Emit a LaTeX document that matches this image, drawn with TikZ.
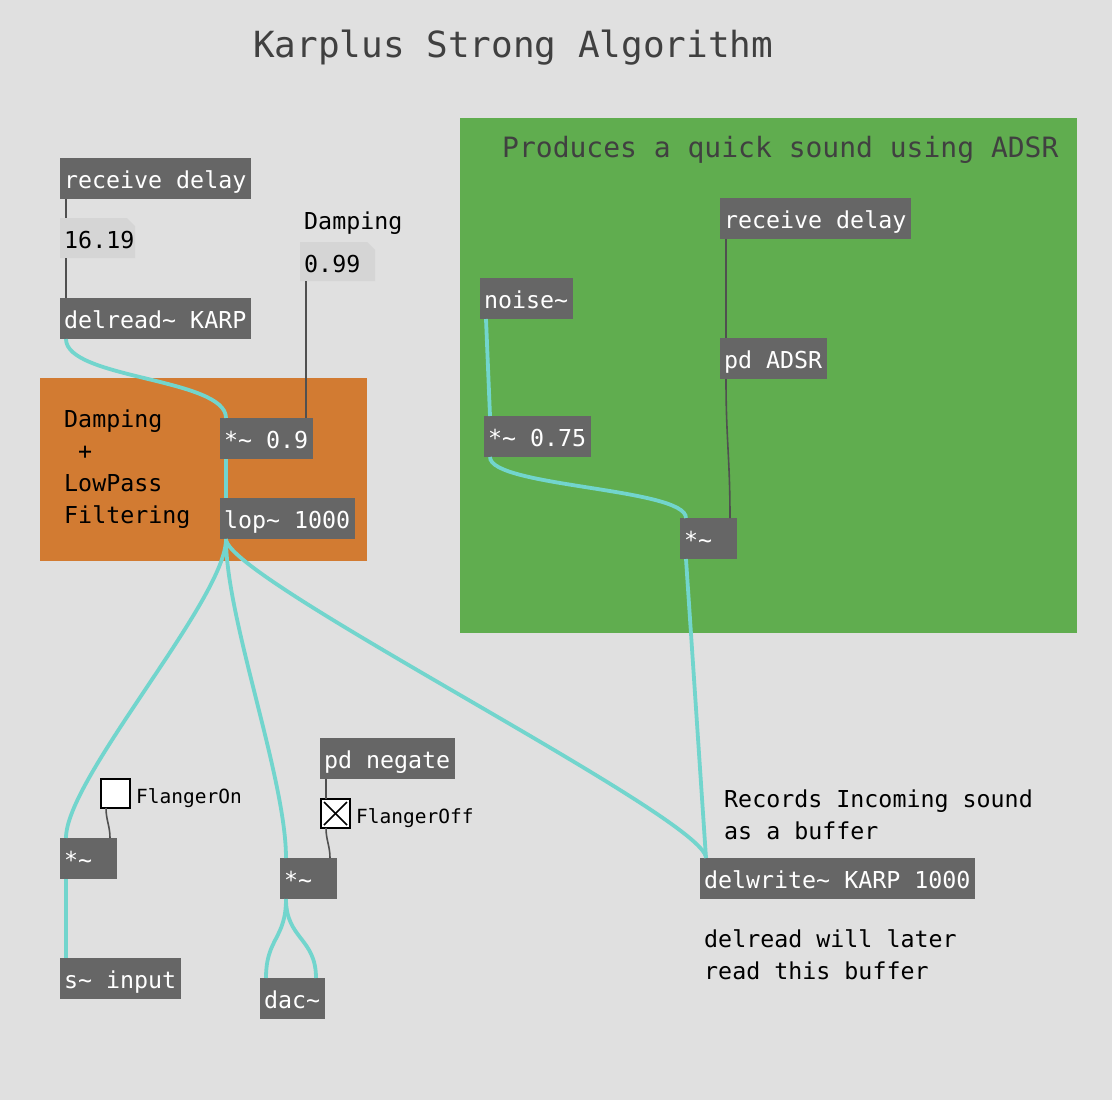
\documentclass[tikz,border=0pt]{standalone}
\usepackage{fontspec}
\newfontfamily\pdmono{DejaVu Sans Mono}
\newcommand{\pdt}{\textasciitilde}
\newcommand{\bx}[2]{\makebox[#1pt][l]{#2}}
\definecolor{bg}{HTML}{E0E0E0}
\definecolor{objgray}{HTML}{666666}
\definecolor{numgray}{HTML}{D5D5D5}
\definecolor{orangebg}{HTML}{D27B32}
\definecolor{greenbg}{HTML}{60AD4F}
\definecolor{cord}{HTML}{72D5CD}
\definecolor{ctlgray}{HTML}{505050}
\definecolor{titlegray}{HTML}{404040}
\begin{document}
\begin{tikzpicture}[x=1pt,y=-1pt,
  obj/.style={fill=objgray, text=white, font=\pdmono\fontsize{23.3}{28}\selectfont,
    anchor=north west, inner xsep=4pt, inner ysep=0pt, minimum height=41pt,
    text height=22pt, text depth=3pt, outer sep=0pt},
  numtxt/.style={anchor=base west, inner sep=0pt, font=\pdmono\fontsize{23.3}{28}\selectfont, text=black},
  comment/.style={anchor=base west, inner sep=0pt, font=\pdmono\fontsize{23.3}{32}\selectfont, text=black},
  toglabel/.style={anchor=base west, inner sep=0pt, font=\pdmono\fontsize{19.5}{24}\selectfont, text=black},
  tog/.style={draw=black, line width=2pt, fill=white, anchor=north west, minimum size=29pt, inner sep=0pt, outer sep=0pt},
  sig/.style={draw=cord, line width=3.8pt},
  ctl/.style={draw=ctlgray, line width=1.6pt}
]
\useasboundingbox (0,0) rectangle (1112,1100);
\fill[bg] (0,0) rectangle (1112,1100);

% title
\node[anchor=base west, inner sep=0pt, font=\pdmono\fontsize{36}{40}\selectfont, text=titlegray] (title) at (253,57) {Karplus Strong Algorithm};

% canvases
\fill[orangebg] (40,378) rectangle (367,561);
\fill[greenbg] (460,118) rectangle (1077,633);
\node[anchor=base west, inner sep=0pt, font=\pdmono\fontsize{28}{32}\selectfont, text=titlegray] (ghead) at (502,157) {Produces a quick sound using ADSR};

% left column objects
\node[obj] (rd1) at (60,158) {\bx{183}{receive delay}};
\fill[numgray] (60,218) -- (127,218) -- (135,226) -- (135,258) -- (60,258) -- cycle;
\node[numtxt] (n1) at (64,248) {16.19};
\coordinate (n1top) at (66,218);
\coordinate (n1bot) at (66,258);
\node[numtxt] (damplbl) at (304,229) {Damping};
\fill[numgray] (300,242) -- (367,242) -- (375,250) -- (375,281) -- (300,281) -- cycle;
\node[numtxt] (n2) at (304,272) {0.99};
\coordinate (n2bot) at (306,281);
\node[obj] (delr) at (60,298) {\bx{183}{delread\pdt{} KARP}};

\node[comment] (ot1) at (64,427) {Damping};
\node[comment] (ot2) at (78,459) {+};
\node[comment] (ot3) at (64,491) {LowPass};
\node[comment] (ot4) at (64,523) {Filtering};
\node[obj] (m09) at (220,418) {\bx{85}{*\pdt{} 0.9}};
\node[obj] (lop) at (220,498) {\bx{127}{lop\pdt{} 1000}};

% green objects
\node[obj] (rd2) at (720,198) {\bx{183}{receive delay}};
\node[obj] (noise) at (480,278) {\bx{85}{noise\pdt}};
\node[obj] (adsr) at (720,338) {\bx{99}{pd ADSR}};
\node[obj] (m075) at (484,416) {\bx{99}{*\pdt{} 0.75}};
\node[obj] (mg) at (680,518) {\bx{49}{*\pdt}};

% bottom objects
\node[obj] (neg) at (320,738) {\bx{127}{pd negate}};
\node[tog] (t1) at (101,779) {};
\node[toglabel] (t1l) at (136,803) {FlangerOn};
\node[tog] (t2) at (321,799) {};
\draw[black, line width=1.5pt] ([xshift=3pt,yshift=-3pt]t2.north west) -- ([xshift=-3pt,yshift=3pt]t2.south east);
\draw[black, line width=1.5pt] ([xshift=-3pt,yshift=-3pt]t2.north east) -- ([xshift=3pt,yshift=3pt]t2.south west);
\node[toglabel] (t2l) at (356,823) {FlangerOff};
\node[obj] (ml) at (60,838) {\bx{49}{*\pdt}};
\node[obj] (mm) at (280,858) {\bx{49}{*\pdt}};
\node[obj] (sin) at (60,958) {\bx{113}{s\pdt{} input}};
\node[obj] (dac) at (260,978) {\bx{57}{dac\pdt}};
\node[obj] (dw) at (700,858) {\bx{267}{delwrite\pdt{} KARP 1000}};
\node[comment] (rec1) at (724,807) {Records Incoming sound};
\node[comment] (rec2) at (724,839) {as a buffer};
\node[comment] (lat1) at (704,947) {delread will later};
\node[comment] (lat2) at (704,979) {read this buffer};

% control cords
\draw[ctl] ([xshift=6pt]rd1.south west) -- (n1top);
\draw[ctl] (n1bot) -- ([xshift=6pt]delr.north west);
\draw[ctl] (n2bot) -- ([xshift=-7pt]m09.north east);
\draw[ctl] ([xshift=6pt]rd2.south west) -- ([xshift=6pt]adsr.north west);
\draw[ctl] ([xshift=6pt]adsr.south west) .. controls +(0,60) and +(0,-60) .. ([xshift=-7pt]mg.north east);
\draw[ctl] ([xshift=-24pt]t1.south east) .. controls +(0,12) and +(0,-12) .. ([xshift=-7pt]ml.north east);
\draw[ctl] ([xshift=6pt]neg.south west) -- ([xshift=5pt]t2.north west);
\draw[ctl] ([xshift=5pt]t2.south west) .. controls +(0,12) and +(0,-12) .. ([xshift=-7pt]mm.north east);

% signal cords
\draw[sig] ([xshift=6pt]delr.south west) .. controls +(0,40) and +(0,-40) .. ([xshift=6pt]m09.north west);
\draw[sig] ([xshift=6pt]m09.south west) -- ([xshift=6pt]lop.north west);
\draw[sig] ([xshift=6pt]lop.south west) .. controls +(0,60) and +(0,-60) .. ([xshift=6pt]ml.north west);
\draw[sig] ([xshift=6pt]lop.south west) .. controls +(0,80) and +(0,-80) .. ([xshift=6pt]mm.north west);
\draw[sig] ([xshift=6pt]lop.south west) .. controls +(0,40) and +(0,-40) .. ([xshift=6pt]dw.north west);
\draw[sig] ([xshift=6pt]noise.south west) -- ([xshift=6pt]m075.north west);
\draw[sig] ([xshift=6pt]m075.south west) .. controls +(0,30) and +(0,-30) .. ([xshift=6pt]mg.north west);
\draw[sig] ([xshift=6pt]mg.south west) -- ([xshift=6pt]dw.north west);
\draw[sig] ([xshift=6pt]ml.south west) -- ([xshift=6pt]sin.north west);
\draw[sig] ([xshift=6pt]mm.south west) .. controls +(0,40) and +(0,-40) .. ([xshift=6pt]dac.north west);
\draw[sig] ([xshift=6pt]mm.south west) .. controls +(0,40) and +(0,-40) .. ([xshift=-9pt]dac.north east);
\end{tikzpicture}
\end{document}
